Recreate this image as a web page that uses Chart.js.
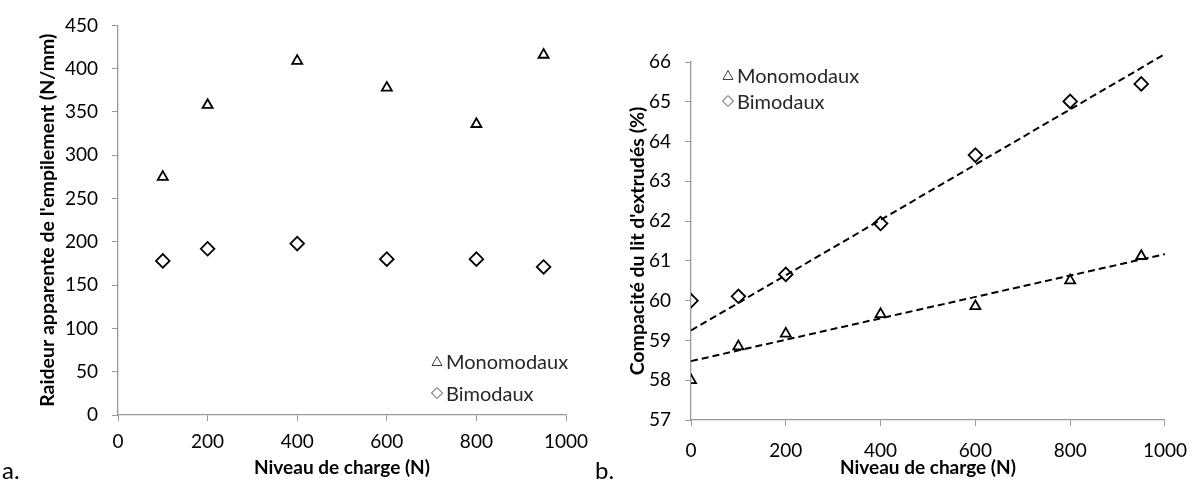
<!DOCTYPE html>
<html>
<head>
<meta charset="utf-8">
<script src="https://cdn.jsdelivr.net/npm/chart.js@4"></script>
<style>
  html, body { margin: 0; padding: 0; background: #fff; }
  body { width: 1200px; height: 482px; position: relative; overflow: hidden; font-family: Lato, "Open Sans", sans-serif; }
  .box { position: absolute; top: 0; width: 600px; height: 482px; }
  .lbl { position: absolute; font-size: 24px; color: #000; line-height: 1; }
  .leg { position: absolute; font-size: 20px; color: #262626; line-height: 1; white-space: nowrap; }
  .leg svg { position: absolute; }
  .leg span { position: absolute; top: 0; transform: translateY(-50%); }
</style>
</head>
<body>
<div class="box" style="left:0"><canvas id="c1" width="600" height="482"></canvas></div>
<div class="box" style="left:600px"><canvas id="c2" width="600" height="482"></canvas></div>
<div class="lbl" style="left:2px; top:458px;">a.</div>
<div class="lbl" style="left:595px; top:458px;">b.</div>

<script>
// ---- Data ----
const seriesNames = ["Monomodaux", "Bimodaux"];

// Chart a.: apparent stiffness of the stack (N/mm) vs load level (N)
const loadA = [100, 200, 400, 600, 800, 950];
const stiffMono = [275, 358, 409, 378, 336, 416];
const stiffBi = [178, 192, 198, 180, 180, 171];

// Chart b.: packing of the extrudate bed (%) vs load level (N)
const loadB = [0, 100, 200, 400, 600, 800, 950];
const compMono = [58.0, 58.85, 59.17, 59.66, 59.86, 60.51, 61.12];
const compBi = [60.0, 60.11, 60.66, 61.94, 63.66, 65.01, 65.45];

// Linear trend lines (end points)
const trendX = [0, 1000];
const trendMono = [58.48, 61.17];
const trendBi = [59.25, 66.2];

// Axis settings
const xTicksA = { min: 0, max: 1000, step: 200 };
const yTicksA = { min: 0, max: 450, step: 50 };
const xTicksB = { min: 0, max: 1000, step: 200 };
const yTicksB = { min: 57, max: 66, step: 1 };

const titleX = "Niveau de charge (N)";
const titleYA = "Raideur apparente de l'empilement (N/mm)";
const titleYB = "Compacité du lit d'extrudés (%)";

// ---- Helpers ----
const pts = (xs, ys) => xs.map((x, i) => ({ x: x, y: ys[i] }));
const FONT = "Lato, 'Open Sans', sans-serif";
const AXIS = "#9a9a9a";
const plain = (v) => String(v);

function axisX(t, height, tpad) {
  return {
    type: 'linear', min: t.min, max: t.max,
    ticks: { stepSize: t.step, color: '#000', padding: tpad, callback: plain, font: { family: FONT, size: 19 } },
    grid: { drawOnChartArea: false, drawTicks: true, tickLength: 6, color: AXIS, lineWidth: 1 },
    border: { color: AXIS, width: 1.3 },
    title: { display: true, text: titleX, color: '#000', font: { family: FONT, size: 19, weight: 'bold' }, padding: { top: 0, bottom: 3 } },
    afterFit: (s) => { s.height = height; }
  };
}
function axisY(t, width, title, tpad) {
  return {
    type: 'linear', min: t.min, max: t.max,
    ticks: { stepSize: t.step, color: '#000', padding: 14, callback: plain, font: { family: FONT, size: 19 } },
    grid: { drawOnChartArea: false, drawTicks: true, tickLength: 6, color: AXIS, lineWidth: 1 },
    border: { color: AXIS, width: 1.3 },
    title: { display: true, text: title, color: '#000', font: { family: FONT, size: 19.5, weight: 'bold' }, padding: { top: tpad, bottom: 0 } },
    afterFit: (s) => { s.width = width; }
  };
}
function markers(label, data, style, r) {
  return {
    type: 'scatter', label: label, data: data,
    pointStyle: style, pointRadius: r, pointHoverRadius: r,
    pointBorderColor: '#000', pointBackgroundColor: 'rgba(255,255,255,0)', pointBorderWidth: 1.8,
    showLine: false
  };
}
function trend(label, data) {
  return {
    type: 'line', label: label, data: data,
    borderColor: '#000', borderWidth: 2, borderDash: [7, 4],
    pointRadius: 0, fill: false, clip: false, tension: 0
  };
}

const common = {
  responsive: false, animation: false, events: [],
  plugins: { legend: { display: false }, tooltip: { enabled: false } }
};

new Chart(document.getElementById('c1'), {
  type: 'scatter',
  data: {
    datasets: [
      markers(seriesNames[0], pts(loadA, stiffMono), 'triangle', 5.8),
      markers(seriesNames[1], pts(loadA, stiffBi), 'rectRot', 6.8)
    ]
  },
  options: Object.assign({}, common, {
    layout: { padding: { left: 0, top: 20, right: 34, bottom: 0 } },
    scales: { x: axisX(xTicksA, 67, 9), y: axisY(yTicksA, 118, titleYA, 36) }
  })
});

new Chart(document.getElementById('c2'), {
  type: 'scatter',
  data: {
    datasets: [
      trend('Tendance ' + seriesNames[1], pts(trendX, trendBi)),
      trend('Tendance ' + seriesNames[0], pts(trendX, trendMono)),
      markers(seriesNames[0], pts(loadB, compMono), 'triangle', 5.8),
      markers(seriesNames[1], pts(loadB, compBi), 'rectRot', 6.8)
    ]
  },
  options: Object.assign({}, common, {
    layout: { padding: { left: 0, top: 62, right: 24, bottom: 0 } },
    scales: { x: axisX(xTicksB, 62, 13), y: axisY(yTicksB, 91, titleYB, 26) }
  })
});
</script>

<!-- Legends -->
<div class="leg" style="left:431px; top:361px;">
  <svg width="12" height="12" style="left:0; top:-6px" viewBox="0 0 12 12"><polygon points="6,1.5 11,10.5 1,10.5" fill="none" stroke="#404040" stroke-width="1"/></svg>
  <span style="left:15px">Monomodaux</span>
</div>
<div class="leg" style="left:431px; top:393px;">
  <svg width="12" height="12" style="left:0; top:-6px" viewBox="0 0 12 12"><polygon points="6,0.5 11.5,6 6,11.5 0.5,6" fill="none" stroke="#404040" stroke-width="1"/></svg>
  <span style="left:15px">Bimodaux</span>
</div>
<div class="leg" style="left:722px; top:75px;">
  <svg width="12" height="12" style="left:0; top:-6px" viewBox="0 0 12 12"><polygon points="6,1.5 11,10.5 1,10.5" fill="none" stroke="#404040" stroke-width="1"/></svg>
  <span style="left:15px">Monomodaux</span>
</div>
<div class="leg" style="left:722px; top:101px;">
  <svg width="12" height="12" style="left:0; top:-6px" viewBox="0 0 12 12"><polygon points="6,0.5 11.5,6 6,11.5 0.5,6" fill="none" stroke="#404040" stroke-width="1"/></svg>
  <span style="left:15px">Bimodaux</span>
</div>
</body>
</html>
